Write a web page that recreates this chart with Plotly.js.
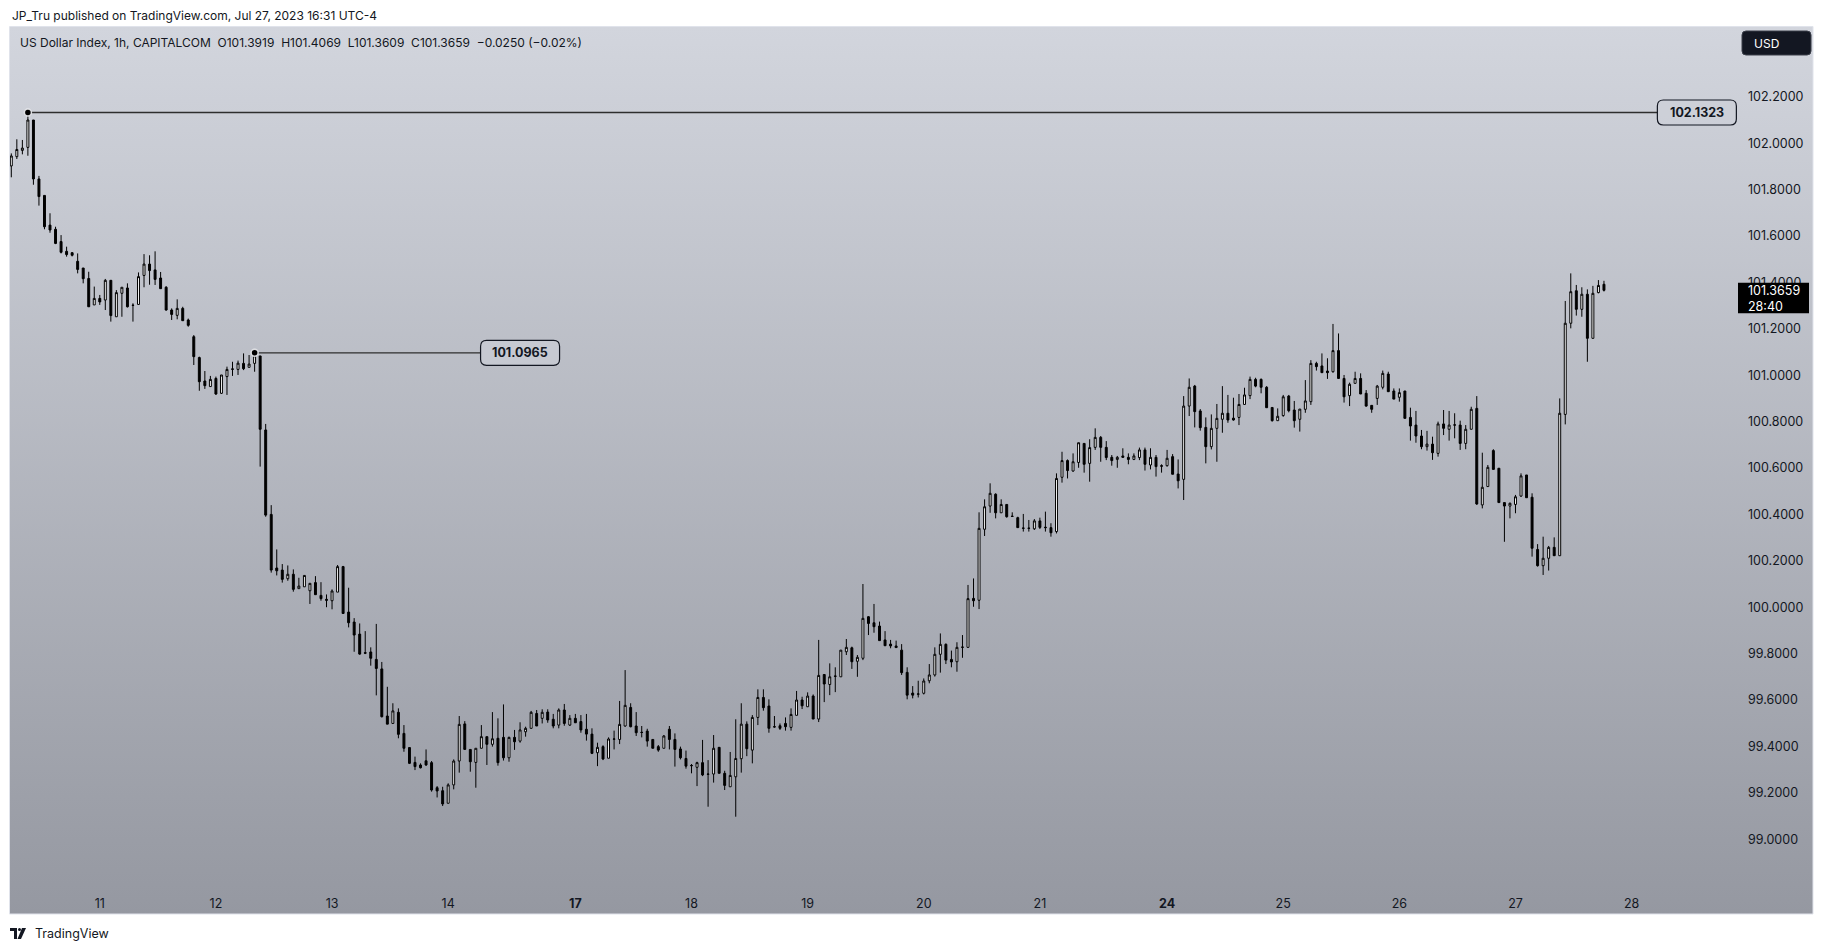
<!DOCTYPE html>
<html>
<head>
<meta charset="utf-8">
<script src="https://cdn.plot.ly/plotly-3.0.1.min.js"></script>
<style>
  html, body { margin: 0; padding: 0; background: #ffffff; }
  #chart { width: 1824px; height: 950px; }
</style>
</head>
<body>
<div id="chart"></div>
<script>
// ---- Data (US Dollar Index, 1h, CAPITALCOM) ----
const open = [101.902,101.942,101.969,101.982,102.100,101.846,101.775,101.647,101.629,101.576,101.534,101.528,101.491,101.462,101.417,101.303,101.331,101.324,101.409,101.252,101.353,101.376,101.302,101.305,101.430,101.479,101.454,101.419,101.379,101.281,101.258,101.288,101.238,101.166,101.076,100.975,100.951,100.986,100.922,100.994,101.025,101.025,101.051,101.034,101.051,101.083,100.764,100.400,100.169,100.160,100.123,100.142,100.080,100.088,100.071,100.106,100.051,100.034,100.028,100.065,100.175,99.979,99.936,99.884,99.804,99.807,99.775,99.734,99.531,99.499,99.547,99.456,99.395,99.331,99.320,99.338,99.330,99.222,99.209,99.155,99.234,99.337,99.497,99.387,99.331,99.392,99.442,99.409,99.435,99.439,99.351,99.439,99.423,99.463,99.478,99.542,99.521,99.548,99.517,99.492,99.557,99.492,99.521,99.507,99.474,99.453,99.373,99.399,99.349,99.431,99.430,99.488,99.568,99.488,99.461,99.466,99.430,99.399,99.392,99.474,99.430,99.389,99.348,99.318,99.310,99.330,99.281,99.281,99.396,99.284,99.226,99.269,99.347,99.496,99.384,99.525,99.611,99.574,99.485,99.489,99.499,99.482,99.534,99.600,99.571,99.617,99.518,99.710,99.667,99.702,99.700,99.808,99.825,99.767,99.780,99.959,99.933,99.919,99.859,99.841,99.833,99.815,99.719,99.630,99.625,99.629,99.683,99.708,99.797,99.840,99.775,99.765,99.827,99.827,100.038,100.030,100.336,100.436,100.487,100.407,100.443,100.391,100.386,100.340,100.341,100.338,100.372,100.345,100.343,100.326,100.560,100.632,100.587,100.624,100.706,100.620,100.689,100.732,100.689,100.646,100.637,100.652,100.646,100.637,100.645,100.678,100.613,100.646,100.610,100.610,100.649,100.574,100.551,100.867,100.953,100.846,100.775,100.692,100.771,100.810,100.836,100.815,100.818,100.874,100.912,100.982,100.982,100.948,100.861,100.804,100.826,100.910,100.850,100.810,100.853,100.886,101.051,101.040,101.018,101.015,101.106,100.986,100.912,100.965,100.986,100.922,100.870,100.900,100.948,101.005,100.932,100.905,100.932,100.818,100.785,100.738,100.692,100.703,100.663,100.790,100.767,100.786,100.785,100.706,100.767,100.857,100.441,100.520,100.675,100.599,100.451,100.436,100.443,100.479,100.570,100.474,100.249,100.179,100.211,100.258,100.222,100.831,101.224,101.364,101.284,101.349,101.159,101.356,101.3919];
const high = [101.956,102.017,102.014,102.1323,102.100,101.859,101.775,101.698,101.640,101.604,101.554,101.531,101.525,101.462,101.446,101.382,101.346,101.415,101.409,101.367,101.379,101.396,101.310,101.443,101.522,101.517,101.534,101.445,101.384,101.288,101.327,101.295,101.244,101.173,101.080,101.018,100.997,100.994,101.001,101.037,101.058,101.063,101.094,101.087,101.0965,101.083,100.790,100.440,100.249,100.186,100.180,100.163,100.127,100.137,100.103,100.134,100.108,100.055,100.077,100.182,100.178,100.084,99.953,99.930,99.897,99.827,99.928,99.764,99.657,99.586,99.564,99.492,99.395,99.356,99.327,99.387,99.337,99.229,99.226,99.241,99.344,99.531,99.509,99.387,99.392,99.492,99.442,99.548,99.521,99.581,99.442,99.471,99.504,99.485,99.553,99.557,99.560,99.560,99.540,99.564,99.583,99.535,99.540,99.535,99.540,99.478,99.416,99.405,99.439,99.468,99.596,99.729,99.586,99.548,99.488,99.476,99.430,99.406,99.449,99.488,99.456,99.399,99.382,99.324,99.334,99.428,99.341,99.449,99.396,99.295,99.376,99.517,99.586,99.508,99.535,99.646,99.646,99.603,99.531,99.499,99.525,99.564,99.639,99.614,99.633,99.624,99.859,99.710,99.758,99.741,99.815,99.863,99.830,99.794,100.100,99.962,100.014,99.938,99.897,99.859,99.856,99.841,99.741,99.660,99.683,99.693,99.755,99.827,99.887,99.844,99.813,99.849,99.880,100.096,100.124,100.409,100.465,100.534,100.491,100.465,100.443,100.409,100.390,100.402,100.376,100.380,100.386,100.412,100.362,100.577,100.670,100.637,100.663,100.709,100.706,100.724,100.771,100.738,100.716,100.656,100.652,100.685,100.663,100.663,100.688,100.688,100.685,100.656,100.616,100.678,100.660,100.637,100.910,100.986,100.958,100.854,100.818,100.831,100.876,100.953,100.915,100.903,100.919,100.946,100.994,100.989,100.986,100.953,100.861,100.857,100.915,100.915,100.889,100.854,100.979,101.065,101.058,101.094,101.073,101.221,101.180,101.001,100.968,101.015,101.008,100.936,100.870,100.958,101.020,101.015,100.943,100.943,100.932,100.860,100.846,100.764,100.760,100.735,100.800,100.850,100.846,100.836,100.804,100.785,100.864,100.910,100.666,100.613,100.681,100.599,100.451,100.451,100.484,100.577,100.570,100.491,100.272,100.304,100.264,100.301,100.900,101.320,101.439,101.389,101.379,101.370,101.385,101.410,101.4069];
const low = [101.853,101.932,101.952,101.946,101.821,101.731,101.629,101.614,101.565,101.525,101.511,101.512,101.439,101.396,101.295,101.303,101.303,101.281,101.231,101.252,101.252,101.292,101.231,101.305,101.379,101.390,101.389,101.373,101.278,101.238,101.241,101.235,101.209,101.044,100.933,100.941,100.951,100.915,100.919,100.915,100.997,101.001,101.022,101.034,101.015,100.606,100.390,100.149,100.137,100.106,100.114,100.067,100.080,100.088,100.014,100.054,100.028,100.000,99.991,100.065,99.973,99.913,99.808,99.795,99.798,99.748,99.620,99.525,99.496,99.499,99.435,99.377,99.324,99.298,99.305,99.316,99.205,99.180,99.143,99.155,99.215,99.287,99.387,99.291,99.222,99.392,99.320,99.399,99.317,99.339,99.334,99.385,99.416,99.442,99.478,99.488,99.499,99.502,99.478,99.478,99.489,99.488,99.502,99.459,99.425,99.367,99.315,99.341,99.349,99.387,99.410,99.485,99.482,99.445,99.439,99.399,99.392,99.377,99.392,99.387,99.313,99.344,99.304,99.284,99.229,99.272,99.140,99.244,99.284,99.212,99.226,99.097,99.287,99.358,99.327,99.492,99.554,99.459,99.481,99.471,99.468,99.468,99.534,99.561,99.571,99.518,99.505,99.591,99.621,99.634,99.700,99.794,99.734,99.700,99.772,99.880,99.890,99.856,99.834,99.823,99.826,99.708,99.603,99.607,99.611,99.624,99.672,99.701,99.718,99.755,99.741,99.722,99.782,99.827,100.002,99.992,100.307,100.407,100.383,100.407,100.386,100.391,100.343,100.326,100.326,100.333,100.337,100.326,100.304,100.318,100.537,100.555,100.584,100.601,100.580,100.541,100.678,100.627,100.634,100.610,100.601,100.646,100.616,100.634,100.634,100.589,100.594,100.563,100.580,100.606,100.573,100.512,100.462,100.824,100.775,100.761,100.620,100.680,100.627,100.752,100.795,100.804,100.785,100.874,100.897,100.948,100.922,100.860,100.800,100.804,100.821,100.840,100.774,100.757,100.838,100.872,101.020,101.011,100.984,101.011,100.984,100.882,100.867,100.965,100.919,100.864,100.838,100.872,100.939,100.929,100.897,100.886,100.814,100.718,100.709,100.681,100.675,100.635,100.649,100.742,100.718,100.728,100.678,100.681,100.767,100.441,100.426,100.520,100.594,100.451,100.282,100.383,100.405,100.476,100.472,100.218,100.175,100.139,100.158,100.222,100.222,100.788,101.202,101.257,101.252,101.058,101.159,101.353,101.3609];
const close = [101.945,101.973,101.979,102.100,101.846,101.770,101.640,101.626,101.568,101.530,101.520,101.517,101.456,101.416,101.295,101.331,101.316,101.409,101.257,101.356,101.379,101.295,101.301,101.425,101.479,101.451,101.413,101.373,101.281,101.262,101.288,101.235,101.215,101.080,100.972,100.955,100.982,100.919,101.001,101.025,101.027,101.052,101.028,101.048,101.084,100.767,100.397,100.160,100.157,100.120,100.142,100.077,100.091,100.137,100.103,100.054,100.037,100.030,100.070,100.175,99.973,99.933,99.880,99.798,99.802,99.780,99.736,99.528,99.496,99.553,99.452,99.392,99.327,99.313,99.308,99.320,99.212,99.208,99.152,99.234,99.337,99.495,99.387,99.334,99.392,99.442,99.409,99.433,99.330,99.351,99.439,99.420,99.471,99.478,99.547,99.488,99.547,99.514,99.488,99.557,99.499,99.521,99.502,99.471,99.453,99.370,99.396,99.346,99.432,99.432,99.495,99.577,99.485,99.459,99.460,99.423,99.392,99.384,99.445,99.430,99.387,99.351,99.315,99.317,99.330,99.277,99.280,99.392,99.284,99.232,99.275,99.348,99.496,99.390,99.525,99.611,99.567,99.478,99.484,99.478,99.485,99.538,99.600,99.575,99.617,99.518,99.706,99.669,99.700,99.703,99.815,99.827,99.765,99.784,99.952,99.930,99.916,99.856,99.834,99.833,99.826,99.718,99.621,99.621,99.626,99.682,99.708,99.797,99.840,99.772,99.764,99.827,99.828,100.037,100.028,100.340,100.433,100.491,100.407,100.443,100.390,100.392,100.343,100.341,100.340,100.372,100.344,100.343,100.321,100.555,100.632,100.589,100.627,100.709,100.616,100.688,100.732,100.689,100.645,100.632,100.646,100.646,100.637,100.652,100.678,100.616,100.646,100.606,100.608,100.642,100.573,100.545,100.867,100.948,100.843,100.774,100.692,100.771,100.814,100.836,100.807,100.807,100.874,100.915,100.982,100.953,100.948,100.860,100.804,100.823,100.907,100.847,100.804,100.854,100.889,101.051,101.037,101.011,101.011,101.106,100.986,100.907,100.961,100.986,100.919,100.867,100.853,100.953,101.008,100.929,100.897,100.925,100.814,100.781,100.738,100.692,100.703,100.666,100.790,100.771,100.785,100.785,100.706,100.767,100.853,100.445,100.517,100.603,100.594,100.451,100.436,100.448,100.476,100.566,100.472,100.254,100.179,100.211,100.258,100.222,100.836,101.224,101.360,101.284,101.349,101.159,101.353,101.387,101.3659];

// Day labels on the time axis (bar index where each day starts)
const dayTickBars   = [16, 37, 58, 79, 102, 123, 144, 165, 186, 209, 230, 251, 272, 293];
const dayTickLabels = ['11','12','13','14','<b>17</b>','18','19','20','21','<b>24</b>','25','26','27','28'];

// Price scale labels
const priceTicks = [99.0, 99.2, 99.4, 99.6, 99.8, 100.0, 100.2, 100.4, 100.6, 100.8, 101.0, 101.2, 101.4, 101.6, 101.8, 102.0, 102.2];

// Horizontal price levels drawn by the author (start bar, price)
const levelBars   = [3, 44];
const levelPrices = [102.1323, 101.0965];

// Header texts
const publishText = 'JP_Tru published on TradingView.com, Jul 27, 2023 16:31 UTC-4';
const symbolText  = 'US Dollar Index, 1h, CAPITALCOM';
const changeText  = '\u22120.0250 (\u22120.02%)';
const countdownText = '28:40';

// ---- Geometry (pixels of the 1824x950 page) ----
const W = 1824, H = 950;
const PL = 10, PR = 1740, PT = 27, PB = 889;        // plot area
const paneRight = 1813, paneBottom = 914;
const px = x => (x - PL) / (PR - PL);
const py = y => (PB - y) / (PB - PT);

const barX0 = -0.235, barX1 = 312.6;
const barPx = (PR - PL) / (barX1 - barX0);
const yMin = 98.7854, yMax = 102.5009;

const idx = open.map((_, i) => i);
const last = close.length - 1;
const fmt = v => v.toFixed(4);
const SP = '\u00a0\u00a0';

const FONT = 'Inter, Roboto, "Noto Sans", sans-serif';
const TXT = '#131722';

const traces = [];
traces.push({
  type: 'candlestick',
  x: idx, open: open, high: high, low: low, close: close,
  increasing: { line: { color: '#000000', width: 1 }, fillcolor: '#ffffff' },
  decreasing: { line: { color: '#000000', width: 1 }, fillcolor: '#000000' },
  whiskerwidth: 0,
  hoverinfo: 'skip',
  showlegend: false
});

// label anchor positions (in bars) for the level labels, label box size in px
const levelLabelBars = [304.8, 92.0];
const boxW = 79, boxH = 25;
levelBars.forEach((b, k) => {
  traces.push({
    type: 'scatter', mode: 'lines',
    x: [b, levelLabelBars[k] - (boxW / 2) / barPx], y: [levelPrices[k], levelPrices[k]],
    line: { color: '#2e2e2e', width: 1.3 },
    hoverinfo: 'skip', showlegend: false
  });
  traces.push({
    type: 'scatter', mode: 'markers',
    x: [b], y: [levelPrices[k]],
    marker: { size: 7, color: '#000000', line: { color: 'rgba(235,236,240,0.9)', width: 1.5 } },
    hoverinfo: 'skip', showlegend: false, cliponaxis: false
  });
});

function roundRect(w, h, r) {
  const a = w / 2, b = h / 2;
  return `M ${-a + r},${-b} L ${a - r},${-b} Q ${a},${-b} ${a},${-b + r} L ${a},${b - r} Q ${a},${b} ${a - r},${b} ` +
         `L ${-a + r},${b} Q ${-a},${b} ${-a},${b - r} L ${-a},${-b + r} Q ${-a},${-b} ${-a + r},${-b} Z`;
}

const gradSvg = "<svg xmlns='http://www.w3.org/2000/svg' width='100' height='100' preserveAspectRatio='none'>" +
  "<defs><linearGradient id='g' x1='0' y1='0' x2='0' y2='1'>" +
  "<stop offset='0' stop-color='#d2d5dd'/><stop offset='1' stop-color='#9598a1'/></linearGradient></defs>" +
  "<rect width='100' height='100' fill='url(#g)'/></svg>";

const shapes = [];
// pane border
shapes.push({ type: 'rect', xref: 'paper', yref: 'paper', x0: px(9.5), x1: px(paneRight), y0: py(paneBottom), y1: py(26.5),
  line: { color: '#e0e3eb', width: 1 }, fillcolor: 'rgba(0,0,0,0)', layer: 'above' });
// level label boxes
levelBars.forEach((b, k) => {
  shapes.push({ type: 'path', xref: 'x', yref: 'y', xsizemode: 'pixel', ysizemode: 'pixel',
    xanchor: levelLabelBars[k], yanchor: levelPrices[k], path: roundRect(boxW, boxH, 6),
    fillcolor: 'rgba(205,208,216,0.6)', line: { color: '#131722', width: 1.2 }, layer: 'above' });
});
// last price box (black), anchored at the last close
shapes.push({ type: 'path', xref: 'paper', yref: 'y', xsizemode: 'pixel', ysizemode: 'pixel',
  xanchor: px(1738), yanchor: close[last], path: 'M 0,7.5 L 71,7.5 L 71,-23 L 0,-23 Z',
  fillcolor: '#000000', line: { width: 0 }, layer: 'above' });
// USD button
shapes.push({ type: 'path', xref: 'paper', yref: 'paper', xsizemode: 'pixel', ysizemode: 'pixel',
  xanchor: px(1776.5), yanchor: py(43), path: roundRect(69, 24, 4),
  fillcolor: '#131722', line: { color: '#3a3e49', width: 1 }, layer: 'above' });
// TradingView logo (footer)
const lx = px(10), ly = py(939);
shapes.push({ type: 'path', xref: 'paper', yref: 'paper', xsizemode: 'pixel', ysizemode: 'pixel',
  xanchor: lx, yanchor: ly, path: 'M 0,11 L 7,11 L 7,0 L 4,0 L 4,8 L 0,8 Z', fillcolor: TXT, line: { width: 0 } });
shapes.push({ type: 'circle', xref: 'paper', yref: 'paper', xsizemode: 'pixel', ysizemode: 'pixel',
  xanchor: lx, yanchor: ly, x0: 8, x1: 11, y0: 8, y1: 11, fillcolor: TXT, line: { width: 0 } });
shapes.push({ type: 'path', xref: 'paper', yref: 'paper', xsizemode: 'pixel', ysizemode: 'pixel',
  xanchor: lx, yanchor: ly, path: 'M 12,11 L 16,11 L 11,0 L 7.5,0 Z', fillcolor: TXT, line: { width: 0 } });

const annotations = [];
annotations.push({ xref: 'paper', yref: 'paper', x: px(10), y: py(15), xanchor: 'left', yanchor: 'middle',
  text: publishText, showarrow: false, font: { family: FONT, size: 12, color: TXT } });
annotations.push({ xref: 'paper', yref: 'paper', x: px(18), y: py(42), xanchor: 'left', yanchor: 'middle',
  text: symbolText + SP + 'O' + fmt(open[last]) + SP + 'H' + fmt(high[last]) + SP + 'L' + fmt(low[last]) +
        SP + 'C' + fmt(close[last]) + SP + changeText,
  showarrow: false, font: { family: FONT, size: 12, color: TXT } });
annotations.push({ xref: 'paper', yref: 'paper', x: px(33), y: py(933), xanchor: 'left', yanchor: 'middle',
  text: 'TradingView', showarrow: false, font: { family: FONT, size: 12.5, color: TXT } });
annotations.push({ xref: 'paper', yref: 'paper', x: px(1752), y: py(43), xanchor: 'left', yanchor: 'middle',
  text: 'USD', showarrow: false, font: { family: FONT, size: 12, color: '#ffffff' } });
levelBars.forEach((b, k) => {
  annotations.push({ xref: 'x', yref: 'y', x: levelLabelBars[k], y: levelPrices[k], xanchor: 'center', yanchor: 'middle',
    text: '<b>' + fmt(levelPrices[k]) + '</b>', showarrow: false, font: { family: FONT, size: 12.5, color: TXT } });
});
annotations.push({ xref: 'paper', yref: 'y', x: px(1747), y: close[last], xanchor: 'left', yanchor: 'top', yshift: 8,
  text: fmt(close[last]) + '<br>' + countdownText, align: 'left', showarrow: false, borderpad: 0,
  font: { family: FONT, size: 12.5, color: '#ffffff' } });

const layout = {
  width: W, height: H,
  margin: { l: PL, r: W - PR, t: PT, b: H - PB, pad: 0 },
  paper_bgcolor: '#ffffff',
  plot_bgcolor: 'rgba(0,0,0,0)',
  font: { family: FONT, color: TXT, size: 12 },
  showlegend: false,
  dragmode: false,
  xaxis: {
    range: [barX0, barX1], showgrid: false, zeroline: false, showline: false,
    tickmode: 'array', tickvals: dayTickBars, ticktext: dayTickLabels,
    ticks: '', ticklabelstandoff: 5, tickfont: { family: FONT, size: 12.5, color: TXT },
    rangeslider: { visible: false }, fixedrange: true
  },
  yaxis: {
    range: [yMin, yMax], side: 'right', showgrid: false, zeroline: false, showline: false,
    tickmode: 'array', tickvals: priceTicks, ticktext: priceTicks.map(fmt),
    ticks: '', ticklabelstandoff: 7, tickfont: { family: FONT, size: 12.5, color: TXT }, fixedrange: true
  },
  boxgap: 0.5,
  images: [{ source: 'data:image/svg+xml;charset=utf-8,' + encodeURIComponent(gradSvg),
    xref: 'paper', yref: 'paper', x: px(10), y: py(27), sizex: px(paneRight) - px(10), sizey: py(27) - py(paneBottom),
    xanchor: 'left', yanchor: 'top', sizing: 'stretch', layer: 'below' }],
  shapes: shapes,
  annotations: annotations
};

Plotly.newPlot('chart', traces, layout, { displayModeBar: false, staticPlot: true });
</script>
</body>
</html>
